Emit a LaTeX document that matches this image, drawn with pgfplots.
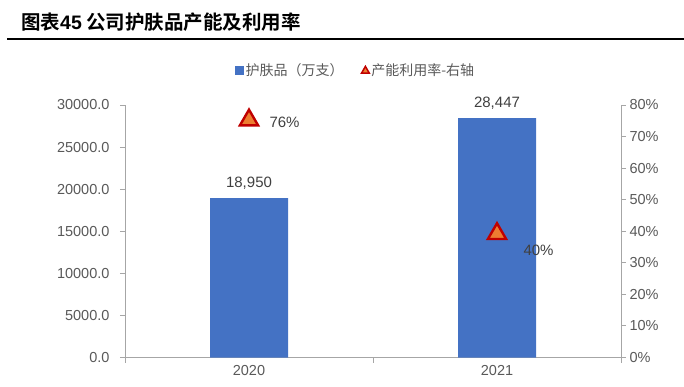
\documentclass[border=0pt]{standalone}
\usepackage{pgfplots}
\pgfplotsset{compat=1.18}
\usepackage{pgfplotstable}
\usepackage{fontspec}
\setmainfont{Liberation Sans}
\newfontfamily\cjk{Noto Sans CJK SC}
\newfontfamily\cjkb{Noto Sans CJK SC Bold}
\definecolor{barblue}{HTML}{4472C4}
\definecolor{triface}{HTML}{ED7D31}
\definecolor{triedge}{HTML}{C00000}
\definecolor{axgray}{HTML}{A6A6A6}
\definecolor{txtgray}{HTML}{595959}
\definecolor{lblgray}{HTML}{404040}

\pgfplotstableread{
x val
0 18950
1 28447
}\bars

\begin{document}
\begin{tikzpicture}
\useasboundingbox (0pt,0pt) rectangle (684pt,-387pt);
\node[anchor=west, inner sep=0pt] at (21pt,-22pt) {\cjkb\fontsize{19.5}{22}\selectfont 图表{\rmfamily\bfseries 45} 公司护肤品产能及利用率};
\draw[line width=1.2pt] (7pt,-39pt) -- (684pt,-39pt);

\begin{axis}[
  at={(125pt,-357.5pt)}, anchor=south west, scale only axis,
  width=496pt, height=252.5pt,
  xmin=-0.5, xmax=1.5, ymin=0, ymax=30000,
  scaled y ticks=false,
  axis x line*=bottom, axis y line*=left,
  axis line style={axgray, line width=1pt},
  tick style={axgray, line width=1pt},
  tick align=outside, major tick length=5pt,
  xtick={-0.5,0.5,1.5}, xticklabels={},
  extra x ticks={0,1}, extra x tick labels={2020,2021},
  extra x tick style={major tick length=0pt},
  x tick label style={font=\fontsize{14.5}{16}\selectfont, text=txtgray, yshift=-4pt},
  ytick={0,5000,...,30000},
  y tick label style={font=\fontsize{14.5}{16}\selectfont, text=txtgray, xshift=-7pt,
    /pgf/number format/fixed, /pgf/number format/fixed zerofill, /pgf/number format/precision=1,
    /pgf/number format/1000 sep={}, /pgf/number format/assume math mode=true},
  clip=false,
]
\addplot[ybar, bar width=78pt, fill=barblue, draw=none,
  nodes near coords,
  nodes near coords style={font=\fontsize{15}{17}\selectfont, text=lblgray, yshift=5pt,
    /pgf/number format/fixed, /pgf/number format/precision=0,
    /pgf/number format/1000 sep={,}, /pgf/number format/assume math mode=true}]
  table[x=x, y=val] {\bars};
\end{axis}

\begin{axis}[
  at={(125pt,-357.5pt)}, anchor=south west, scale only axis,
  width=496pt, height=252.5pt,
  xmin=-0.5, xmax=1.5, ymin=0, ymax=80,
  axis x line=none, axis y line*=right,
  axis line style={axgray, line width=1pt},
  tick style={axgray, line width=1pt},
  tick align=outside, major tick length=5pt,
  ytick={0,10,...,80},
  yticklabel={\pgfmathprintnumber[assume math mode=true]{\tick}\%},
  y tick label style={font=\fontsize{14.5}{16}\selectfont, text=txtgray},
  clip=false,
  legend style={at={(0.465,1.139)}, anchor=center, draw=none, fill=none,
    legend columns=2, font=\cjk\fontsize{14}{16}\selectfont, text=txtgray,
    /tikz/every even column/.append style={column sep=16pt}},
  legend cell align=left,
]
\addlegendimage{legend image code/.code={\fill[barblue] (0pt,-4pt) rectangle (8pt,4pt);}}
\addlegendentry{护肤品（万支）}
\addlegendimage{legend image code/.code={\draw[mark=triangle*, mark size=4.5pt, mark options={fill=triface, draw=triedge, line width=1.5pt}] plot coordinates {(4pt,-1pt)};}}
\addlegendentry{产能利用率-右轴}

\addplot[only marks, mark=triangle*, mark size=10.5pt,
  mark options={fill=triface, draw=triedge, line width=2.4pt, yshift=-2.5pt},
  nodes near coords={\pgfmathprintnumber[assume math mode=true]{\pgfplotspointmeta}\%},
  nodes near coords style={font=\fontsize{15}{17}\selectfont, text=lblgray, anchor=west, xshift=16pt, yshift=-2pt}]
  coordinates {(0,76)};
\addplot[only marks, mark=triangle*, mark size=10.5pt,
  mark options={fill=triface, draw=triedge, line width=2.4pt, yshift=-2.5pt},
  nodes near coords={\pgfmathprintnumber[assume math mode=true]{\pgfplotspointmeta}\%},
  nodes near coords style={font=\fontsize{15}{17}\selectfont, text=lblgray, anchor=west, xshift=22pt, yshift=-17pt}]
  coordinates {(1,40)};
\end{axis}
\end{tikzpicture}
\end{document}
